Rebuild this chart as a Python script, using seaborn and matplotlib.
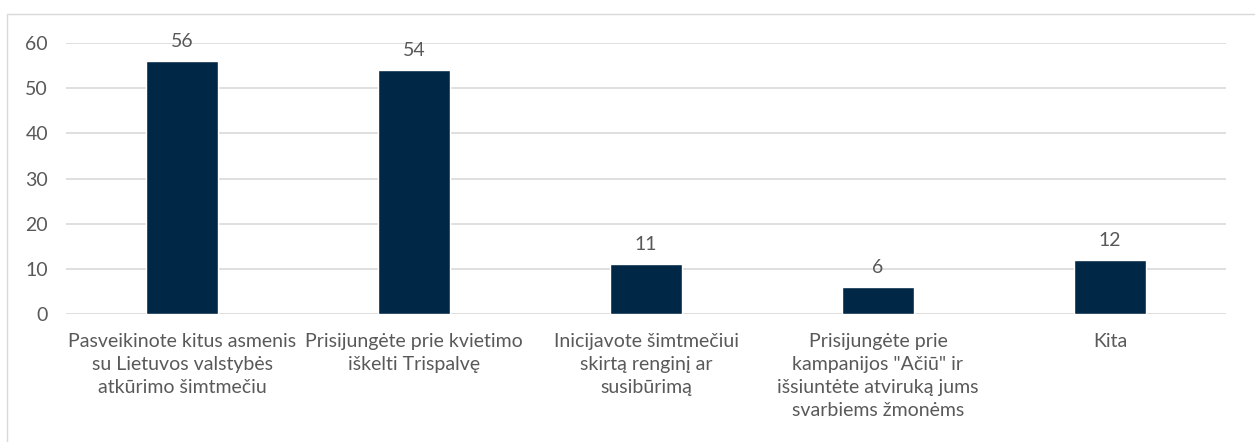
import seaborn as sns
import matplotlib.pyplot as plt
import matplotlib.patches as mpatches
import pandas as pd

categories = [
    "Pasveikinote kitus asmenis\nsu Lietuvos valstybės\natkūrimo šimtmečiu",
    "Prisijungėte prie kvietimo\niškelti Trispalvę",
    "Inicijavote šimtmečiui\nskirtą renginį ar\nsusibūrimą",
    "Prisijungėte prie\nkampanijos \"Ačiū\" ir\nišsiuntėte atviruką jums\nsvarbiems žmonėms",
    "Kita",
]
values = [56, 54, 11, 6, 12]
yticks = [0, 10, 20, 30, 40, 50, 60]

df = pd.DataFrame({"cat": categories, "val": values})

sns.set_style("white")
plt.rcParams['font.family'] = ['Lato', 'DejaVu Sans']
grey = "#595959"
fs = 14

fig = plt.figure(figsize=(12.55, 4.42), dpi=100)
ax = fig.add_axes([66 / 1255, 1 - 314 / 442, 1160 / 1255, 271 / 442])

sns.barplot(data=df, x="cat", y="val", color="#002846", saturation=1,
            width=0.31, ax=ax, zorder=3)

ax.set_ylim(0, 60)
ax.set_yticks(yticks)
ax.set_xlim(-0.5, len(categories) - 0.5)
ax.grid(axis="y", color="#d9d9d9", linewidth=1.2, zorder=0)
ax.set_axisbelow(True)
for s in ax.spines.values():
    s.set_visible(False)
ax.set_xlabel("")
ax.set_ylabel("")
ax.tick_params(axis="both", length=0, colors=grey, labelsize=fs)
ax.tick_params(axis="y", pad=13)
ax.tick_params(axis="x", pad=14)
for lbl in ax.get_xticklabels():
    lbl.set_linespacing(1.42)

for i, v in enumerate(values):
    ax.annotate(str(v), (i, v), xytext=(0, 8), textcoords="offset points",
                ha="center", va="bottom", color=grey, fontsize=fs)

border = mpatches.Rectangle((7 / 1255, -0.1), 1.2, 1 - 14 / 442 + 0.1,
                            transform=fig.transFigure, fill=False,
                            edgecolor="#d9d9d9", linewidth=1)
fig.patches.append(border)

fig.savefig("out.png", dpi=100)
